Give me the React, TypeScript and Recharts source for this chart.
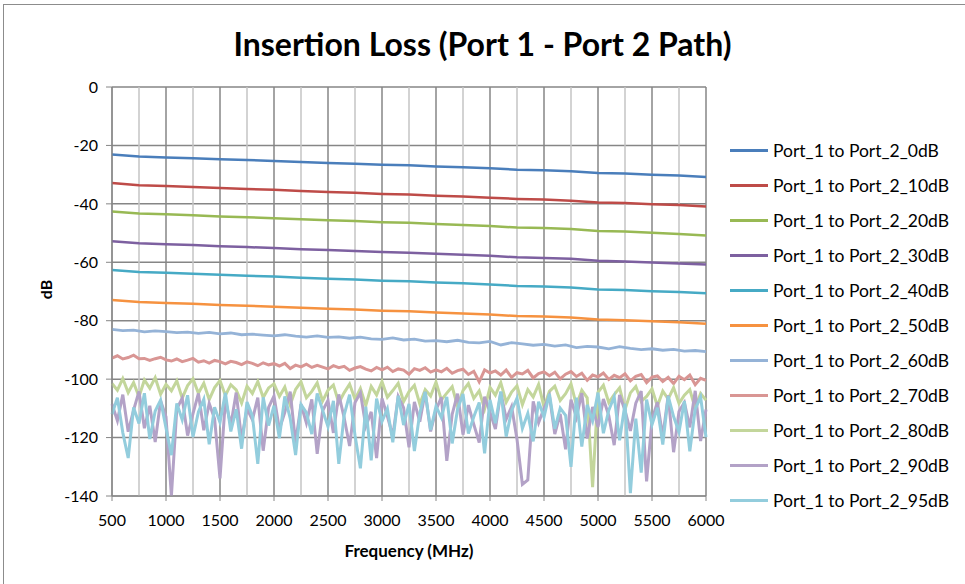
import { CartesianGrid, Line, LineChart, ReferenceLine, XAxis, YAxis } from 'recharts';

// sweep grids (MHz)
const sweep = (step: number) => Array.from({ length: 5500 / step + 1 }, (_, i) => 500 + i * step);
const f250 = sweep(250);
const f100 = sweep(100);
const f50 = sweep(50);

const xTicks = [500, 1000, 1500, 2000, 2500, 3000, 3500, 4000, 4500, 5000, 5500, 6000];
const xMinor = [750, 1250, 1750, 2250, 2750, 3250, 3750, 4250, 4750, 5250, 5750];
const yTicks = [0, -20, -40, -60, -80, -100, -120, -140];

const p0dB = [-23.1, -23.8, -24.1, -24.4, -24.7, -25.0, -25.3, -25.7, -26.0, -26.3, -26.6, -26.8, -27.2, -27.5, -27.8, -28.3, -28.5, -28.8, -29.4, -29.6, -30.0, -30.3, -30.8];
const p10dB = [-32.9, -33.6, -33.9, -34.2, -34.6, -34.9, -35.2, -35.6, -35.9, -36.2, -36.6, -36.8, -37.2, -37.5, -37.9, -38.3, -38.5, -38.9, -39.5, -39.7, -40.1, -40.4, -40.9];
const p20dB = [-42.6, -43.3, -43.6, -43.9, -44.3, -44.6, -44.9, -45.3, -45.6, -45.9, -46.3, -46.5, -46.9, -47.2, -47.6, -48.1, -48.3, -48.6, -49.3, -49.5, -49.9, -50.3, -50.8];
const p30dB = [-52.8, -53.5, -53.8, -54.1, -54.5, -54.8, -55.1, -55.5, -55.8, -56.1, -56.5, -56.7, -57.1, -57.4, -57.8, -58.3, -58.5, -58.8, -59.5, -59.7, -60.1, -60.4, -60.8];
const p40dB = [-62.6, -63.3, -63.6, -63.9, -64.3, -64.6, -64.9, -65.3, -65.6, -65.9, -66.3, -66.5, -66.9, -67.2, -67.6, -68.1, -68.3, -68.6, -69.3, -69.5, -69.9, -70.2, -70.6];
const p50dB = [-72.9, -73.6, -73.9, -74.2, -74.6, -74.9, -75.2, -75.6, -75.9, -76.2, -76.6, -76.8, -77.2, -77.5, -77.9, -78.4, -78.6, -78.9, -79.6, -79.8, -80.2, -80.5, -81.0];
const p60dB = [
  -83.0, -83.4, -83.2, -83.8, -83.5, -83.7, -84.1, -83.9, -84.3, -84.0,
  -84.5, -84.2, -84.8, -84.6, -84.9, -85.2, -84.8, -85.3, -85.6, -85.2,
  -85.7, -85.5, -86.0, -85.6, -86.2, -86.4, -85.9, -86.6, -86.3, -87.0,
  -86.8, -87.2, -86.7, -87.4, -87.6, -87.1, -88.3, -87.5, -87.9, -88.4,
  -88.1, -88.7, -88.3, -89.2, -88.8, -89.0, -89.6, -88.9, -89.5, -89.9,
  -89.6, -90.1, -89.8, -90.4, -90.2, -90.6,
];
const p70dB = [
  -92.8, -92.0, -93.1, -92.6, -91.8, -93.0, -92.9, -93.6, -93.0, -92.5, -93.4,
  -93.8, -93.1, -94.0, -93.5, -92.9, -94.2, -93.7, -94.5, -93.6, -94.0,
  -94.8, -93.9, -94.3, -95.0, -94.1, -94.6, -95.4, -94.4, -95.1, -94.7,
  -95.5, -94.6, -96.4, -95.2, -95.8, -94.9, -96.0, -95.3, -95.9, -96.5,
  -95.4, -96.1, -95.6, -97.0, -96.2, -95.7, -96.6, -97.2, -96.0, -96.8,
  -95.9, -97.4, -96.5, -96.9, -98.3, -96.4, -97.0, -96.1, -97.6, -96.8,
  -97.5, -96.3, -98.0, -97.1, -96.6, -98.4, -97.3, -100.9, -96.8, -97.9,
  -97.2, -98.6, -96.9, -99.4, -97.8, -98.2, -97.0, -99.6, -98.1, -97.5,
  -98.8, -97.6, -99.9, -98.3, -97.4, -99.1, -98.0, -100.4, -98.6, -99.2,
  -97.9, -100.1, -98.7, -99.5, -98.2, -100.6, -99.0, -98.4, -101.2, -99.3,
  -98.9, -100.8, -99.4, -101.5, -99.0, -100.2, -98.6, -101.9, -99.7, -100.4,
];
const p80dB = [
  -101.5, -103.8, -99.8, -104.6, -101.2, -106.0, -100.3, -103.1, -99.5, -105.2, -101.8,
  -104.0, -100.6, -106.5, -102.2, -99.9, -104.8, -101.4, -107.0, -102.9, -100.5,
  -105.6, -101.9, -103.7, -108.2, -102.4, -104.9, -100.8, -106.3, -103.0, -101.6,
  -105.9, -102.7, -108.8, -103.5, -100.9, -106.4, -104.2, -101.3, -107.5, -103.8,
  -102.0, -108.1, -104.6, -101.7, -106.9, -103.2, -109.0, -102.5, -105.4, -100.8,
  -106.2, -103.9, -101.4, -107.7, -104.3, -102.1, -108.5, -103.6, -105.8, -101.0,
  -107.1, -104.8, -102.6, -109.3, -103.9, -101.5, -106.6, -104.0, -110.2, -102.8,
  -105.5, -101.2, -107.9, -104.4, -102.3, -108.7, -103.6, -106.1, -101.8, -109.5,
  -104.2, -102.4, -107.3, -105.0, -101.6, -108.9, -103.8, -106.4, -137.0, -104.5,
  -102.1, -108.0, -105.3, -103.0, -110.4, -104.7, -102.5, -107.6, -105.9, -103.3,
  -109.2, -104.1, -106.8, -102.9, -108.3, -105.5, -103.6, -110.0, -104.9, -107.2,
];
const p90dB = [
  -108.5, -114.2, -105.3, -118.0, -110.6, -104.2, -116.8, -109.1, -121.5, -107.4, -112.9,
  -140.0, -110.2, -106.5, -119.3, -111.8, -104.9, -117.5, -108.3, -113.6, -134.0,
  -107.2, -115.8, -104.6, -120.7, -110.1, -113.9, -106.3, -124.5, -109.7, -105.8,
  -117.2, -111.4, -104.3, -121.8, -108.6, -115.0, -106.9, -125.6, -110.8, -107.3,
  -118.4, -105.2, -113.3, -122.9, -108.0, -104.7, -116.1, -111.2, -127.0, -106.6,
  -112.7, -119.5, -105.9, -109.8, -123.3, -107.8, -114.6, -104.4, -117.9, -110.5,
  -106.2, -128.0, -112.0, -105.0, -119.0, -108.9, -115.5, -121.7, -106.0, -111.3,
  -117.1, -104.5, -113.7, -109.4, -120.6, -136.0, -134.5, -107.6, -114.9, -110.0,
  -105.7, -118.8, -111.9, -124.0, -107.0, -113.1, -104.8, -120.3, -109.5, -116.4,
  -106.8, -112.5, -122.6, -105.4, -110.7, -117.7, -108.2, -104.1, -135.0, -113.8,
  -107.9, -119.6, -105.6, -125.0, -111.1, -108.0, -116.5, -104.0, -121.2, -110.4,
];
const p95dB = [
  -112.0, -106.4, -118.3, -127.0, -109.7, -115.2, -104.8, -120.5, -110.9, -107.2, -116.7,
  -126.0, -108.3, -113.9, -105.5, -119.8, -111.2, -106.9, -122.3, -109.6, -114.8,
  -104.7, -117.9, -110.3, -123.8, -107.8, -112.6, -129.0, -106.2, -115.9, -109.1,
  -120.2, -105.9, -113.4, -126.0, -108.7, -111.5, -118.8, -104.9, -110.6, -116.3,
  -107.4, -129.0, -112.2, -105.3, -119.2, -130.5, -109.4, -127.8, -106.7, -114.5,
  -110.1, -121.6, -105.7, -115.7, -108.5, -124.6, -111.6, -104.4, -117.4, -109.3,
  -113.2, -106.1, -122.0, -110.2, -105.1, -118.6, -112.9, -108.0, -125.4, -107.1,
  -115.1, -104.2, -119.7, -110.8, -106.5, -116.9, -111.7, -121.3, -107.7, -113.0,
  -105.0, -117.0, -109.9, -112.4, -130.0, -106.3, -123.1, -108.8, -114.3, -104.6,
  -118.5, -110.6, -106.0, -120.9, -108.4, -139.0, -113.5, -132.0, -107.0, -115.6,
  -109.8, -122.4, -105.8, -112.8, -118.1, -107.5, -124.7, -110.3, -106.1, -119.9,
];

const rows = (freqs: number[], vals: number[]) => freqs.map((f, i) => ({ f, v: vals[i] }));

const series = [
  { name: 'Port_1 to Port_2_0dB', color: '#4A7EBB', width: 2.5, data: rows(f250, p0dB) },
  { name: 'Port_1 to Port_2_10dB', color: '#BE4B48', width: 2.5, data: rows(f250, p10dB) },
  { name: 'Port_1 to Port_2_20dB', color: '#98B954', width: 2.5, data: rows(f250, p20dB) },
  { name: 'Port_1 to Port_2_30dB', color: '#7D60A0', width: 2.5, data: rows(f250, p30dB) },
  { name: 'Port_1 to Port_2_40dB', color: '#46AAC5', width: 2.5, data: rows(f250, p40dB) },
  { name: 'Port_1 to Port_2_50dB', color: '#F69240', width: 2.5, data: rows(f250, p50dB) },
  { name: 'Port_1 to Port_2_60dB', color: '#95B3D7', width: 2.8, data: rows(f100, p60dB) },
  { name: 'Port_1 to Port_2_70dB', color: '#D99694', width: 3, data: rows(f50, p70dB) },
  { name: 'Port_1 to Port_2_80dB', color: '#C3D69B', width: 3, data: rows(f50, p80dB) },
  { name: 'Port_1 to Port_2_90dB', color: '#B3A2C7', width: 3, data: rows(f50, p90dB) },
  { name: 'Port_1 to Port_2_95dB', color: '#93CDDD', width: 3, data: rows(f50, p95dB) },
];

const font = 'Lato, sans-serif';

function LegendBox() {
  return (
    <div
      style={{ position: 'absolute', left: 730, top: 133, fontFamily: font, fontSize: 17.5, color: '#000' }}
    >
      {series.map((s) => (
        <div key={s.name} style={{ display: 'flex', alignItems: 'center', height: 35 }}>
          <div style={{ width: 38, height: 3, background: s.color, marginRight: 5 }} />
          <span>{s.name}</span>
        </div>
      ))}
    </div>
  );
}

export default function App() {
  return (
    <div style={{ position: 'absolute', left: 0, top: 0, width: 965, height: 584, background: '#fff' }}>
      <div
        style={{
          position: 'absolute',
          left: 3,
          top: 4,
          width: 970,
          height: 590,
          border: '1px solid #8c8c8c',
          boxSizing: 'border-box',
        }}
      />
      <div
        style={{
          position: 'absolute',
          left: 0,
          width: 965,
          top: 24,
          textAlign: 'center',
          fontFamily: font,
          fontWeight: 'bold',
          fontSize: 32,
          color: '#000',
        }}
      >
        Insertion Loss (Port 1 - Port 2 Path)
      </div>
      <div
        style={{
          position: 'absolute',
          left: 36,
          top: 280,
          transform: 'rotate(-90deg)',
          fontFamily: font,
          fontWeight: 'bold',
          fontSize: 16,
        }}
      >
        dB
      </div>
      <div
        style={{
          position: 'absolute',
          left: 112,
          width: 594,
          top: 540,
          textAlign: 'center',
          fontFamily: font,
          fontWeight: 'bold',
          fontSize: 17,
        }}
      >
        Frequency (MHz)
      </div>
      <LineChart width={965} height={584} margin={{ top: 87, right: 259, bottom: 58, left: 0 }}>
        <CartesianGrid stroke="#868686" strokeWidth={1.5} />
        {xMinor.map((x) => (
          <ReferenceLine key={x} x={x} stroke="#c4c4c4" strokeWidth={1.5} />
        ))}
        <XAxis
          type="number"
          dataKey="f"
          domain={[500, 6000]}
          ticks={xTicks}
          height={30}
          tickSize={5}
          tickMargin={14}
          stroke="#868686"
          tick={{ fill: '#000', fontSize: 16, fontFamily: font }}
          allowDuplicatedCategory={false}
        />
        <YAxis
          type="number"
          domain={[-140, 0]}
          ticks={yTicks}
          width={112}
          tickSize={6}
          tickMargin={8}
          stroke="#868686"
          tick={{ fill: '#000', fontSize: 16, fontFamily: font }}
        />
        {series.map((s) => (
          <Line
            key={s.name}
            data={s.data}
            dataKey="v"
            name={s.name}
            stroke={s.color}
            strokeWidth={s.width}
            dot={false}
            type="linear"
            isAnimationActive={false}
          />
        ))}
      </LineChart>
      <LegendBox />
    </div>
  );
}
